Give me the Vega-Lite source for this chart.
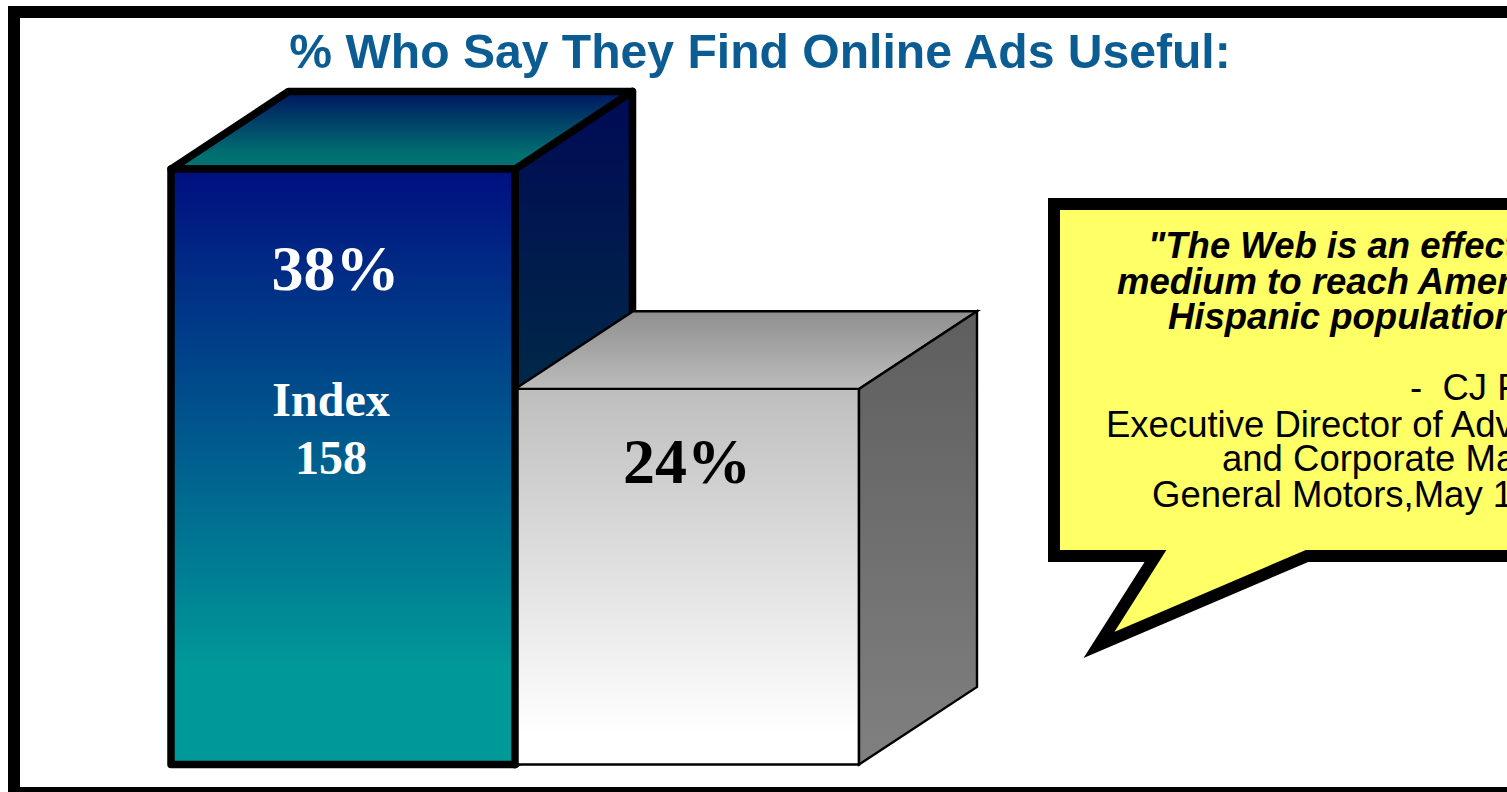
{
"$schema":"https://vega.github.io/schema/vega-lite/v6.json",
"width":1507,"height":792,"autosize":{"type":"none"},"padding":0,"background":"white",
"view":{"stroke":null},
"title":{"text":"% Who Say They Find Online Ads Useful:","anchor":"middle","frame":"group","dx":6.5,"dy":116,"offset":0,"baseline":"alphabetic","font":"Liberation Sans","fontSize":48.1,"fontWeight":"bold","color":"#0A5C92"},
"data":{"values":[
{"part":"frame","x":14,"x2":1530,"v":48.02,"v2":-1.82},
{"part":"bar1side","x":515,"v":38,"v2":0},
{"part":"bar1side","x":632.5,"v":42.95,"v2":4.95},
{"part":"bar1top","x":171,"v":38,"v2":38},
{"part":"bar1top","x":288.5,"v":42.95,"v2":38},
{"part":"bar1top","x":515,"v":42.95,"v2":38},
{"part":"bar1top","x":632.5,"v":42.95,"v2":42.95},
{"part":"bar2front","bar":"Others","x":515,"x2":859,"v":23.97,"v2":0},
{"part":"bar2top","x":515,"v":23.97,"v2":23.97},
{"part":"bar2top","x":633,"v":28.92,"v2":23.97},
{"part":"bar2top","x":859,"v":28.92,"v2":23.97},
{"part":"bar2top","x":977,"v":28.92,"v2":28.92},
{"part":"bar2side","x":859,"v":23.97,"v2":0},
{"part":"bar2side","x":977,"v":28.92,"v2":4.95},
{"part":"bar1front","bar":"Hispanics","x":171,"x2":515,"v":38,"v2":0},
{"part":"callout","o":1,"x":1530,"v":35.77},
{"part":"callout","o":2,"x":1054,"v":35.77},
{"part":"callout","o":3,"x":1054,"v":13.31},
{"part":"callout","o":4,"x":1155.5,"v":13.31},
{"part":"callout","o":5,"x":1099,"v":7.63},
{"part":"callout","o":6,"x":1307,"v":13.31},
{"part":"callout","o":7,"x":1530,"v":13.31},
{"part":"callout","o":8,"x":1530,"v":35.77},
{"part":"big-white","label":"38%","x":335.5,"v":30.28},
{"part":"index","label":"Index","x":331,"v":22.24},
{"part":"index","label":"158","x":331,"v":18.54},
{"part":"big-black","label":"24%","x":687,"v":17.98},
{"part":"quote","label":"\"The Web is an effective","x":1148,"v":32.34},
{"part":"quote","label":"medium to reach America's","x":1117,"v":30.03},
{"part":"quote","label":"Hispanic population.\"","x":1168,"v":27.77},
{"part":"who","label":"-\u00a0\u00a0CJ Fraleigh","x":1410,"v":23.26},
{"part":"who","label":"Executive Director of Advertising","x":1106,"v":20.92},
{"part":"who","label":"and Corporate Marketing","x":1222,"v":18.75},
{"part":"who","label":"General Motors,May 1","x":1152,"v":16.41}
]},
"encoding":{
"x":{"field":"x","type":"quantitative","scale":{"domain":[0,1507],"nice":false,"zero":false},"axis":null},
"y":{"field":"v","type":"quantitative","scale":{"domain":[-1.755,48.787],"nice":false,"zero":false},"axis":null}
},
"layer":[
{"transform":[{"filter":"datum.part=='frame'"}],"mark":{"type":"rect","fill":"white","stroke":"black","strokeWidth":12},"encoding":{"x2":{"field":"x2"},"y2":{"field":"v2"}}},
{"transform":[{"filter":"datum.part=='bar1side'"}],"mark":{"type":"area","orient":"vertical","stroke":"black","strokeWidth":7.5,"strokeJoin":"round","fill":{"gradient":"linear","x1":0,"y1":0,"x2":0,"y2":1,"stops":[{"offset":0,"color":"#000A55"},{"offset":0.5,"color":"#002C45"},{"offset":1,"color":"#004D4D"}]}},"encoding":{"y2":{"field":"v2"}}},
{"transform":[{"filter":"datum.part=='bar1top'"}],"mark":{"type":"area","orient":"vertical","stroke":"black","strokeWidth":7.5,"strokeJoin":"round","fill":{"gradient":"linear","x1":0,"y1":0,"x2":0,"y2":1,"stops":[{"offset":0,"color":"#001560"},{"offset":0.8,"color":"#006F70"},{"offset":1,"color":"#007370"}]}},"encoding":{"y2":{"field":"v2"}}},
{"transform":[{"filter":"datum.part=='bar2front'"}],"mark":{"type":"rect","stroke":"black","strokeWidth":2.4,"fill":{"gradient":"linear","x1":0,"y1":0,"x2":0,"y2":1,"stops":[{"offset":0,"color":"#BEBEBE"},{"offset":0.92,"color":"#FFFFFF"},{"offset":1,"color":"#FFFFFF"}]}},"encoding":{"x2":{"field":"x2"},"y2":{"field":"v2"}}},
{"transform":[{"filter":"datum.part=='bar2top'"}],"mark":{"type":"area","orient":"vertical","stroke":"black","strokeWidth":2.4,"fill":{"gradient":"linear","x1":0,"y1":0,"x2":0,"y2":1,"stops":[{"offset":0,"color":"#8F8F8F"},{"offset":1,"color":"#BCBCBC"}]}},"encoding":{"y2":{"field":"v2"}}},
{"transform":[{"filter":"datum.part=='bar2side'"}],"mark":{"type":"area","orient":"vertical","stroke":"black","strokeWidth":2.4,"fill":{"gradient":"linear","x1":0,"y1":0,"x2":0,"y2":1,"stops":[{"offset":0,"color":"#5E5E5E"},{"offset":1,"color":"#808080"}]}},"encoding":{"y2":{"field":"v2"}}},
{"transform":[{"filter":"datum.part=='bar1front'"}],"mark":{"type":"rect","stroke":"black","strokeWidth":7.5,"strokeJoin":"round","fill":{"gradient":"linear","x1":0,"y1":0,"x2":0,"y2":1,"stops":[{"offset":0,"color":"#000F80"},{"offset":0.84,"color":"#009999"},{"offset":1,"color":"#009999"}]}},"encoding":{"x2":{"field":"x2"},"y2":{"field":"v2"}}},
{"transform":[{"filter":"datum.part=='callout'"}],"mark":{"type":"line","fill":"#FFFF66","stroke":"black","strokeWidth":12,"strokeJoin":"miter","strokeMiterLimit":20},"encoding":{"order":{"field":"o","type":"quantitative"}}},
{"transform":[{"filter":"datum.part=='big-white'"}],"mark":{"type":"text","baseline":"alphabetic","align":"center","font":"Liberation Serif","fontWeight":"bold","fontSize":64,"fill":"white"},"encoding":{"text":{"field":"label"}}},
{"transform":[{"filter":"datum.part=='index'"}],"mark":{"type":"text","baseline":"alphabetic","align":"center","font":"Liberation Serif","fontWeight":"bold","fontSize":48,"fill":"white"},"encoding":{"text":{"field":"label"}}},
{"transform":[{"filter":"datum.part=='big-black'"}],"mark":{"type":"text","baseline":"alphabetic","align":"center","font":"Liberation Serif","fontWeight":"bold","fontSize":64,"fill":"black"},"encoding":{"text":{"field":"label"}}},
{"transform":[{"filter":"datum.part=='quote'"}],"mark":{"type":"text","baseline":"alphabetic","align":"left","font":"Liberation Sans","fontWeight":"bold","fontStyle":"italic","fontSize":36.5,"fill":"black"},"encoding":{"text":{"field":"label"}}},
{"transform":[{"filter":"datum.part=='who'"}],"mark":{"type":"text","baseline":"alphabetic","align":"left","font":"Liberation Sans","fontSize":36.5,"fill":"black"},"encoding":{"text":{"field":"label"}}}
]
}
